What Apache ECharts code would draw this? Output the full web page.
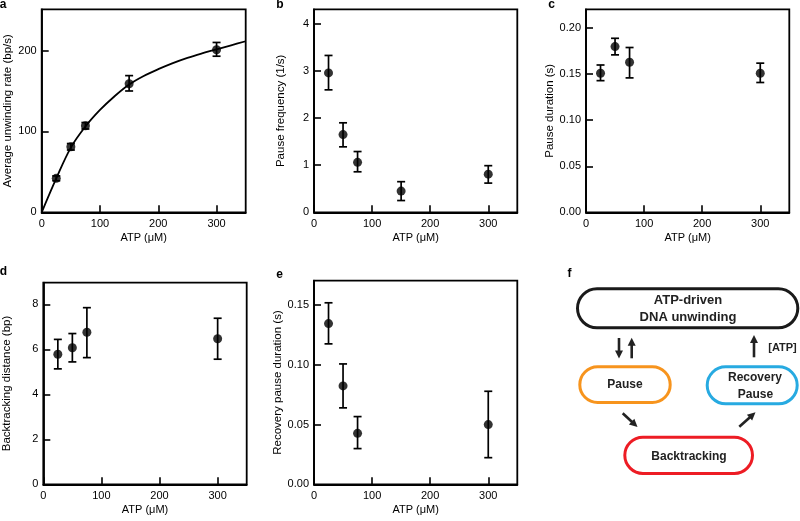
<!DOCTYPE html>
<html>
<head>
<meta charset="utf-8">
<script src="https://cdn.jsdelivr.net/npm/echarts@6/dist/echarts.min.js"></script>
<style>html,body{margin:0;padding:0;background:#fff}#c{width:800px;height:521px}</style>
</head>
<body>
<div id="c"></div>
<script>
// ---------- data ----------
const atp5 = [25, 50, 75, 150, 300];
const atp4 = [25, 50, 75, 300];

const rateMean = [42, 81, 107, 159, 201];
const rateLow  = [39, 77, 103, 150, 193];
const rateHigh = [45, 85, 111, 169, 210];
const fitAtp  = [0, 25, 50, 75, 100, 125, 150, 175, 200, 225, 250, 275, 300, 325, 350];
const fitRate = [0, 42, 80, 106, 126.5, 143.5, 158, 168.5, 177, 184.5, 191, 196.5, 201.5, 206.5, 211.5];

const freqMean = [2.96, 1.65, 1.06, 0.45, 0.81];
const freqLow  = [2.60, 1.39, 0.86, 0.25, 0.62];
const freqHigh = [3.33, 1.90, 1.29, 0.65, 0.99];

const durMean = [0.151, 0.180, 0.163, 0.151];
const durLow  = [0.143, 0.171, 0.146, 0.141];
const durHigh = [0.160, 0.189, 0.179, 0.162];

const backMean = [5.78, 6.07, 6.76, 6.47];
const backLow  = [5.13, 5.44, 5.63, 5.56];
const backHigh = [6.44, 6.70, 7.85, 7.38];

const recMean = [0.1346, 0.0824, 0.0427, 0.050];
const recLow  = [0.1176, 0.064, 0.0299, 0.0223];
const recHigh = [0.152, 0.1008, 0.0567, 0.0779];

// ---------- helpers ----------
const FONT = '"Liberation Sans", Arial, sans-serif';
const AXW = 1.8;

function xAxisDef(gi) {
  return {
    type: 'value', gridIndex: gi, min: 0, max: 350, interval: 100,
    name: 'ATP (\u03bcM)', nameLocation: 'middle', nameGap: 20,
    nameTextStyle: { fontSize: 11, color: '#000', fontFamily: FONT },
    axisLine: { show: true, lineStyle: { color: '#000', width: AXW } },
    axisTick: { show: true, inside: true, length: 7, lineStyle: { color: '#000', width: 1.6 } },
    axisLabel: { fontSize: 11, color: '#000', fontFamily: FONT, margin: 6.5, showMaxLabel: false },
    splitLine: { show: false }
  };
}
function yAxisDef(gi, max, interval, name, gap, dec) {
  return {
    type: 'value', gridIndex: gi, min: 0, max: max, interval: interval,
    name: name, nameLocation: 'middle', nameGap: gap,
    nameTextStyle: { fontSize: 11.5, color: '#000', fontFamily: FONT },
    axisLine: { show: true, lineStyle: { color: '#000', width: AXW } },
    axisTick: { show: true, inside: true, length: 7, lineStyle: { color: '#000', width: 1.6 } },
    axisLabel: { fontSize: 11, color: '#000', fontFamily: FONT, margin: 5, showMaxLabel: false,
      formatter: v => v.toFixed(dec) },
    splitLine: { show: false }
  };
}
function zip3(a, b, c) { return a.map((v, i) => [v, b[i], c[i]]); }
function zip2(a, b) { return a.map((v, i) => [v, b[i]]); }

function errRender(params, api) {
  const x = api.value(0);
  const lo = api.coord([x, api.value(1)]);
  const hi = api.coord([x, api.value(2)]);
  const w = 4;
  const st = { stroke: '#000', lineWidth: 1.7 };
  return {
    type: 'group',
    children: [
      { type: 'line', shape: { x1: lo[0], y1: lo[1], x2: hi[0], y2: hi[1] }, style: st },
      { type: 'line', shape: { x1: lo[0] - w, y1: lo[1], x2: lo[0] + w, y2: lo[1] }, style: st },
      { type: 'line', shape: { x1: hi[0] - w, y1: hi[1], x2: hi[0] + w, y2: hi[1] }, style: st }
    ]
  };
}
function errSeries(gi, x, lo, hi) {
  return { type: 'custom', xAxisIndex: gi, yAxisIndex: gi, renderItem: errRender,
    data: zip3(x, lo, hi), encode: { x: 0, y: [1, 2] }, z: 3, silent: true };
}
function dotSeries(gi, x, y) {
  return { type: 'scatter', xAxisIndex: gi, yAxisIndex: gi, data: zip2(x, y),
    symbol: 'circle', symbolSize: 9, itemStyle: { color: '#000' }, z: 4, silent: true };
}

// ---------- panel f diagram ----------
function pill(x, y, w, h, color) {
  return { type: 'rect', shape: { x: x, y: y, width: w, height: h, r: h / 2 },
    style: { fill: 'none', stroke: color, lineWidth: 3 } };
}
function txt(s, x, y, size) {
  return { type: 'text', x: x, y: y, style: { text: s, align: 'center', verticalAlign: 'middle',
    textAlign: 'center', textVerticalAlign: 'middle', fill: '#222',
    font: 'bold ' + size + 'px ' + FONT } };
}
function arrow(x1, y1, x2, y2) {
  const dx = x2 - x1, dy = y2 - y1, L = Math.hypot(dx, dy);
  const ux = dx / L, uy = dy / L, hl = 8, hw = 4;
  const bx = x2 - ux * hl, by = y2 - uy * hl;
  return [
    { type: 'line', shape: { x1: x1, y1: y1, x2: bx + ux, y2: by + uy },
      style: { stroke: '#222', lineWidth: 2.6 } },
    { type: 'polygon', shape: { points: [[x2, y2], [bx - uy * hw, by + ux * hw], [bx + uy * hw, by - ux * hw]] },
      style: { fill: '#222' } }
  ];
}
function label(s, x, y) {
  return { type: 'text', x: x, y: y, style: { text: s, align: 'center', verticalAlign: 'middle',
    textAlign: 'center', textVerticalAlign: 'middle', fill: '#000', font: 'bold 12px ' + FONT } };
}

const graphics = [
  label('a', 3, 5), label('b', 280, 5), label('c', 551.5, 5),
  label('d', 3.5, 272), label('e', 279.5, 274.5), label('f', 569.5, 274),
  pill(577.5, 288.8, 220.3, 39, '#1a1a1a'),
  txt('ATP-driven', 688, 300, 13),
  txt('DNA unwinding', 688, 317.5, 13),
  pill(579.8, 366.8, 90.4, 35.7, '#f7941d'),
  txt('Pause', 625, 385, 12),
  pill(707.2, 366.8, 90, 37, '#27aae1'),
  txt('Recovery', 755, 377.5, 12),
  txt('Pause', 755.5, 395, 12),
  pill(624.8, 437.2, 127.7, 36.3, '#ed1c24'),
  txt('Backtracking', 689, 456.5, 12),
  txt('[ATP]', 782.5, 347.7, 11)
].concat(
  arrow(619, 338, 619, 358.5),
  arrow(631.7, 358.3, 631.7, 337.7),
  arrow(754, 357.3, 754, 335),
  arrow(622.7, 413.3, 637.5, 427),
  arrow(739.3, 426.7, 755.5, 412.3)
);

// ---------- chart ----------
const chart = echarts.init(document.getElementById('c'), null, { renderer: 'canvas' });
const gridStyle = { show: true, borderColor: '#000', borderWidth: AXW, backgroundColor: 'transparent', containLabel: false };
chart.setOption({
  backgroundColor: '#fff',
  animation: false,
  grid: [
    Object.assign({ left: 41.7, top: 9.3, width: 204, height: 203 }, gridStyle),
    Object.assign({ left: 314, top: 9.3, width: 203.3, height: 203 }, gridStyle),
    Object.assign({ left: 586, top: 9.3, width: 203.3, height: 203 }, gridStyle),
    Object.assign({ left: 43.3, top: 282.7, width: 203.4, height: 201.6 }, gridStyle),
    Object.assign({ left: 314, top: 280.7, width: 203.3, height: 203.6 }, gridStyle)
  ],
  xAxis: [xAxisDef(0), xAxisDef(1), xAxisDef(2), xAxisDef(3), xAxisDef(4)],
  yAxis: [
    yAxisDef(0, 251, 100, 'Average unwinding rate (bp/s)', 28, 0),
    yAxisDef(1, 4.31, 1, 'Pause frequency (1/s)', 27, 0),
    yAxisDef(2, 0.2205, 0.05, 'Pause duration (s)', 29, 2),
    yAxisDef(3, 8.96, 2, 'Backtracking distance (bp)', 30, 0),
    yAxisDef(4, 0.1705, 0.05, 'Recovery pause duration (s)', 27, 2)
  ],
  series: [
    { type: 'line', xAxisIndex: 0, yAxisIndex: 0, data: zip2(fitAtp, fitRate), smooth: 0.35,
      showSymbol: false, lineStyle: { color: '#000', width: 1.8 }, z: 2, silent: true },
    errSeries(0, atp5, rateLow, rateHigh), dotSeries(0, atp5, rateMean),
    errSeries(1, atp5, freqLow, freqHigh), dotSeries(1, atp5, freqMean),
    errSeries(2, atp4, durLow, durHigh), dotSeries(2, atp4, durMean),
    errSeries(3, atp4, backLow, backHigh), dotSeries(3, atp4, backMean),
    errSeries(4, atp4, recLow, recHigh), dotSeries(4, atp4, recMean)
  ],
  graphic: graphics
});
</script>
</body>
</html>
